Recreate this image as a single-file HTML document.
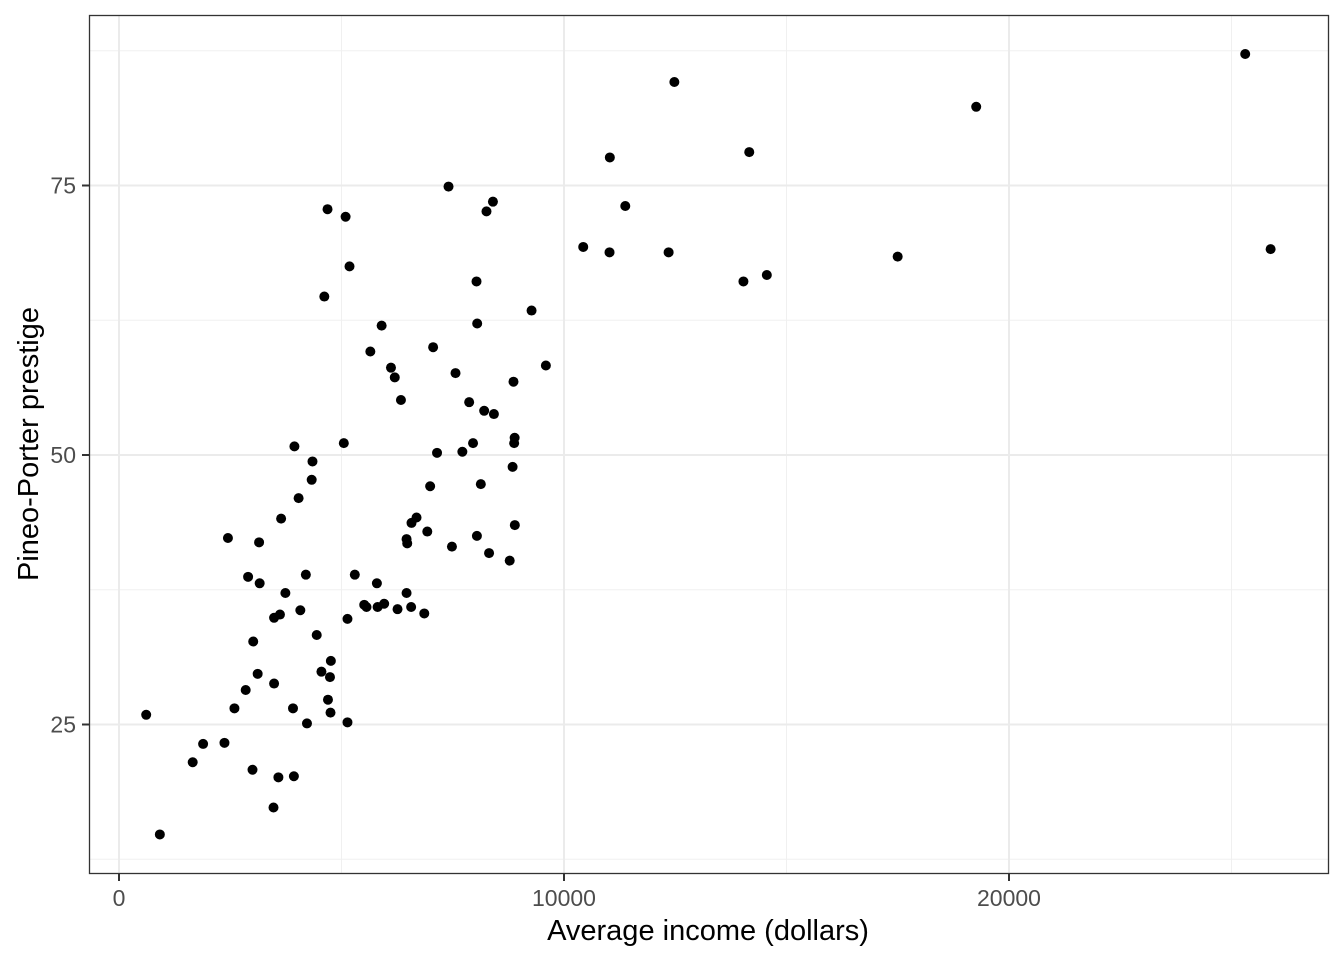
<!DOCTYPE html>
<html><head><meta charset="utf-8"><style>
body{margin:0;background:#fff;}
svg{display:block;font-family:"Liberation Sans",Arial,sans-serif;}
</style></head><body>
<svg id="chart" width="1344" height="960" xmlns="http://www.w3.org/2000/svg">
<g id="grid"></g>
<g id="pts"></g>
<rect x="89.5" y="15.5" width="1239" height="858" fill="none" stroke="#333" stroke-width="1.3"/>
<g id="axes"></g>
<text x="708" y="940" font-size="29" text-anchor="middle">Average income (dollars)</text>
<text transform="translate(38,444) rotate(-90)" font-size="29" text-anchor="middle">Pineo-Porter prestige</text>
</svg>
<script>
const income=[12351,25879,9271,8865,8403,11030,8258,14163,11377,11023,5902,7059,8425,8049,7405,6336,19263,6112,9593,4686,12480,5648,8034,25308,14558,17498,4614,3485,5092,10432,5180,6197,7562,8206,4036,3148,4348,2448,4330,4761,3016,2901,5511,3739,3161,4741,5052,6259,4075,7482,8780,2594,918,2370,8131,6992,7956,8895,8891,3116,3930,7869,611,3000,3472,3582,3643,1656,6860,4199,5134,5134,1890,4443,3485,8043,6686,6565,6477,5811,6573,3942,6462,2847,5795,7716,4696,8316,7147,8880,5299,5959,4549,6928,3910,14032,8845,5562,4224,4753,6462,3617];
const prestige=[68.8,69.1,63.4,56.8,73.5,77.6,72.6,78.1,73.1,68.8,62.0,60.0,53.8,62.2,74.9,55.1,82.3,58.1,58.3,72.8,84.6,59.6,66.1,87.2,66.7,68.4,64.7,34.9,72.1,69.3,67.5,57.2,57.6,54.1,46.0,41.9,49.4,42.3,47.7,30.9,32.7,38.7,36.1,37.2,38.1,29.4,51.1,35.7,35.6,41.5,40.2,26.5,14.8,23.3,47.3,47.1,51.1,43.5,51.6,29.7,20.2,54.9,25.9,20.8,17.3,20.1,44.1,21.5,35.3,38.9,25.2,34.8,23.2,33.3,28.8,42.5,44.2,35.9,41.8,35.9,43.7,50.8,37.2,28.2,38.1,50.3,27.3,40.9,50.2,51.1,38.9,36.2,29.9,42.9,26.5,66.1,48.9,35.9,25.1,26.1,42.2,35.2];
const xTicks=[0,10000,20000], xMinor=[5000,15000,25000];
const yTicks=[25,50,75], yMinor=[12.5,37.5,62.5,87.5];
const X=v=>119+v*0.0445, Y=v=>455-(v-50)*10.78;
const NS="http://www.w3.org/2000/svg";
function mk(p,t,a){const e=document.createElementNS(NS,t);for(const k in a)e.setAttribute(k,a[k]);p.appendChild(e);return e;}
const g=document.getElementById('grid'),ax=document.getElementById('axes'),pg=document.getElementById('pts');
xMinor.forEach(v=>{const l=mk(g,'line',{x1:X(v),x2:X(v),y1:15,y2:873,stroke:'#f0f0f0','stroke-width':1});

});
yMinor.forEach(v=>{const l=mk(g,'line',{x1:89,x2:1328,y1:Y(v),y2:Y(v),stroke:'#f0f0f0','stroke-width':1});

});
xTicks.forEach(v=>{const l=mk(g,'line',{x1:X(v),x2:X(v),y1:15,y2:873,stroke:'#ebebeb','stroke-width':2});


const t=mk(ax,'line',{x1:X(v),x2:X(v),y1:874,y2:881,stroke:'#333','stroke-width':2});


const tx=mk(ax,'text',{x:X(v),y:906,'font-size':23,fill:'#4d4d4d','text-anchor':'middle'});tx.textContent=v;

});
yTicks.forEach(v=>{const l=mk(g,'line',{x1:89,x2:1328,y1:Y(v),y2:Y(v),stroke:'#ebebeb','stroke-width':2});


const t=mk(ax,'line',{x1:82,x2:89,y1:Y(v),y2:Y(v),stroke:'#333','stroke-width':2});


const tx=mk(ax,'text',{x:76,y:Y(v)+8,'font-size':23,fill:'#4d4d4d','text-anchor':'end'});tx.textContent=v;

});
income.forEach((v,i)=>{const c=mk(pg,'circle',{cx:X(v),cy:Y(prestige[i]),r:5,fill:'#000'});

});
</script>
</body></html>
